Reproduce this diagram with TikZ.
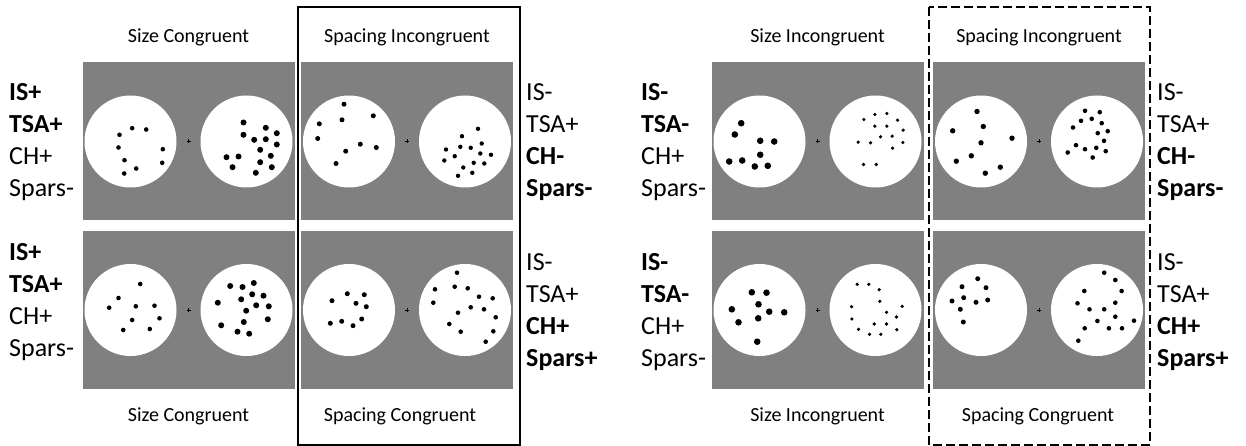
\documentclass[tikz,border=0pt]{standalone}
\usepackage{fontspec}
\setmainfont{Carlito}
\definecolor{fondgris}{RGB}{128,128,128}
% points of one disc: centre x, centre y, dot radius, list dx/dy
\newcommand{\nuage}[4]{%
	\foreach \dx/\dy in {#4} \fill [shift={(#1,#2)}] (\dx,\dy) circle (#3);}

\begin{document}
\begin{tikzpicture}[x=1pt, y=-1pt,
		panel/.style	= {fill=fondgris},
		disc/.style		= {fill=white},
		cond/.style		= {font=\fontsize{20}{24}\selectfont, anchor=base, inner sep=0pt},
		lab/.style		= {font=\fontsize{26}{32}\selectfont, anchor=base west, inner sep=0pt}]
	% Cadre
	\useasboundingbox		(0,0)		rectangle	(1246,446)	;
	% Panels
	\foreach \cx in {188.5, 407, 817.5, 1039}
		\foreach \cy in {141.5, 310} {
			\fill [panel]	(\cx-106,\cy-79)	rectangle	(\cx+106,\cy+79)	;
			\fill [disc]	(\cx-58,\cy)		circle		(46pt)	;
			\fill [disc]	(\cx+58,\cy)		circle		(46pt)	;
			\draw [line width=0.6pt] (\cx-2,\cy) -- (\cx+2,\cy) (\cx,\cy-2) -- (\cx,\cy+2);
		}
	% Frames
	\draw [line width=1.8pt]							(298,7)	rectangle	(520,445)	;
	\draw [line width=1.8pt, dash pattern=on 9pt off 4pt]	(929,7)	rectangle	(1150,445)	;
	% Dots, left group
	\nuage{130.5}{141.5}{2.3pt}{1.7/-13.3, 15.7/-12, -11/-6.7, -12/6, 32.3/7.7, -6/18.7, 31.7/21.3, 5.7/27, -6.3/32}
	\nuage{246.5}{141.5}{3pt}{-3/-19, 19.3/-13.7, -3/-6.7, 30.3/-8.3, 7.7/-1.7, 19.3/-2.3, 30.3/3, 13.7/8.3, -20/15.7, -8/15, 24.3/14.3, 13.7/20.7, -14/25.7, 25.3/25.7, 9.3/31.3}
	\nuage{349}{141.5}{2.5pt}{-5/-37.3, -29.7/-17.7, -7/-21.7, 24.3/-25.7, -31.3/-3, 11.3/2.7, 27.3/6, -3.3/9.7, -13/22}
	\nuage{465}{141.5}{2.2pt}{13/-12.7, -3/-5.3, 16.7/2, -19/8, -4.7/5.3, 5.7/6.3, -10.3/14.7, 15.3/12, 26/13.3, -20.7/19, 8.7/21.3, 19.3/22, -1.7/26, 7.3/31.3, -7/34.3}
	\nuage{130.5}{310}{2.3pt}{9.7/-26, -12/-12, -21.3/-2.3, 5.3/-3.7, 24/-4.3, 29/8.3, 1.7/10, -7.3/20, 19.3/19}
	\nuage{246.5}{310}{3pt}{-16.3/-24, -4/-23, 7.3/-27, 5.7/-15.7, 17/-14.3, -5.3/-10.7, -28.7/-7.3, 9.7/-4.7, 22.3/-3.7, -0.3/0.7, 21.3/9.3, -2.7/12, -25.3/15.3, -9/21.7, 2.7/23.7}
	\nuage{349}{310}{2.5pt}{-1.7/-16.3, -17/-9.3, 15.3/-15.3, 7/-6.7, 17.3/-3.3, -18.7/13.3, -7.3/11.3, 4/15.7, 12.7/9}
	\nuage{465}{310}{2.3pt}{-8/-37.3, -30/-20.7, -10.3/-23.3, 2.7/-21.7, 14/-13.3, 27.7/-11.7, -31.7/-7.3, 5.7/-2.7, 19/-0.7, -7/2.7, 30.7/7.3, -15.7/14, -4.3/21.7, 28.3/21.3, 20.7/31.7}
	% Dots, right group
	\nuage{759.5}{141.5}{3.3pt}{-18.3/-18.3, -24.7/-7, 0.7/-0.7, 14.7/0, 0.7/13.3, -30.3/20, -17.3/19, -4.7/25, 8.3/24.3}
	\nuage{875.5}{141.5}{1.8pt}{-11.7/-22, -0.7/-27, 11.3/-28, 22/-21.3, -0.7/-15.3, 11.3/-15.3, 27.7/-11.3, 5/-4.7, 16.7/-5.3, -17.3/0.7, -5/1.3, 27.3/1, 17/6.7, -12/23, 0.7/23}
	\nuage{981}{141.5}{2.7pt}{-4/-30, -28.3/-10.7, 2.3/-15, 31/-3.3, 0/1.3, -9.7/14.3, -24.7/19.7, 19.3/25.7, 4.3/31.7}
	\nuage{1097}{141.5}{2.3pt}{-12/-30.7, 2.7/-29.3, -16/-20.7, -5.3/-22.7, 4.7/-18.3, -24/-14, 0.7/-8.3, 10.7/-10.3, 7/-0.7, -21/3.7, -12/7.7, -0.7/6.3, 8.7/9.7, -29.3/11, -4.3/16}
	\nuage{759.5}{310}{3.3pt}{-7.7/-17.7, 7/-17.3, -1/-5.7, -27.7/-0.7, 9.7/1.7, 24.7/2.3, -1.3/8.3, -21/12.3, -2.3/31.7}
	\nuage{875.5}{310}{1.8pt}{-18.3/-25.7, -6.7/-25.7, 3.7/-20.3, 4.3/-8.7, -24/-3.3, 26.7/-3.7, 11/2.3, -23.7/9, 21/7, -1.3/14, 11/14, -17/19.3, -6/24.3, 5.3/24.3, 21.3/19.7}
	\nuage{981}{310}{2.5pt}{-3.3/-31.3, -19/-23.3, 5/-22.3, -29/-9, -17.3/-12.3, -5/-7.7, 6.7/-10, -20.7/-0.7, -17.7/12}
	\nuage{1097}{310}{2.3pt}{7.2/-37.3, 18.3/-30, -12.7/-19, 24.6/-19, -19.5/-6.7, -7.5/-0.7, 7.2/-0.7, 18.3/-7.3, 18.3/6.7, 0.4/11, 37/10.7, -12.3/18.3, 11.9/18.3, 25/18.3, -18.7/30.7}
	% Conditions
	\node [cond] (tsc)	at (188.5,42.5)	{Size Congruent};
	\node [cond] (tsi)	at (407,42.5)	{Spacing Incongruent};
	\node [cond] (tzi)	at (817.5,42.5)	{Size Incongruent};
	\node [cond] (tpi)	at (1039,42.5)	{Spacing Incongruent};
	\node [cond] (bsc)	at (188.5,421.5)	{Size Congruent};
	\node [cond] (bpc)	at (400,421.5)	{Spacing Congruent};
	\node [cond] (bzi)	at (817.5,421.5)	{Size Incongruent};
	\node [cond] (bpc2)	at (1038,421.5)	{Spacing Congruent};
	% Labels
	\foreach \t [count=\i from 0] in {\textbf{IS+}, \textbf{TSA+}, CH+, Spars-}
		\node [lab] (la\i) at (9,101+32*\i) {\t};
	\foreach \t [count=\i from 0] in {\textbf{IS+}, \textbf{TSA+}, CH+, Spars-}
		\node [lab] (lb\i) at (9,260+32*\i) {\t};
	\foreach \t [count=\i from 0] in {IS-, TSA+, \textbf{CH-}, \textbf{Spars-}}
		\node [lab] (lc\i) at (526,101+32*\i) {\t};
	\foreach \t [count=\i from 0] in {IS-, TSA+, \textbf{CH+}, \textbf{Spars+}}
		\node [lab] (ld\i) at (526,270+32*\i) {\t};
	\foreach \t [count=\i from 0] in {\textbf{IS-}, \textbf{TSA-}, CH+, Spars-}
		\node [lab] (le\i) at (641,101+32*\i) {\t};
	\foreach \t [count=\i from 0] in {\textbf{IS-}, \textbf{TSA-}, CH+, Spars-}
		\node [lab] (lf\i) at (641,270+32*\i) {\t};
	\foreach \t [count=\i from 0] in {IS-, TSA+, \textbf{CH-}, \textbf{Spars-}}
		\node [lab] (lg\i) at (1157,101+32*\i) {\t};
	\foreach \t [count=\i from 0] in {IS-, TSA+, \textbf{CH+}, \textbf{Spars+}}
		\node [lab] (lh\i) at (1157,270+32*\i) {\t};
\end{tikzpicture}
\end{document}
